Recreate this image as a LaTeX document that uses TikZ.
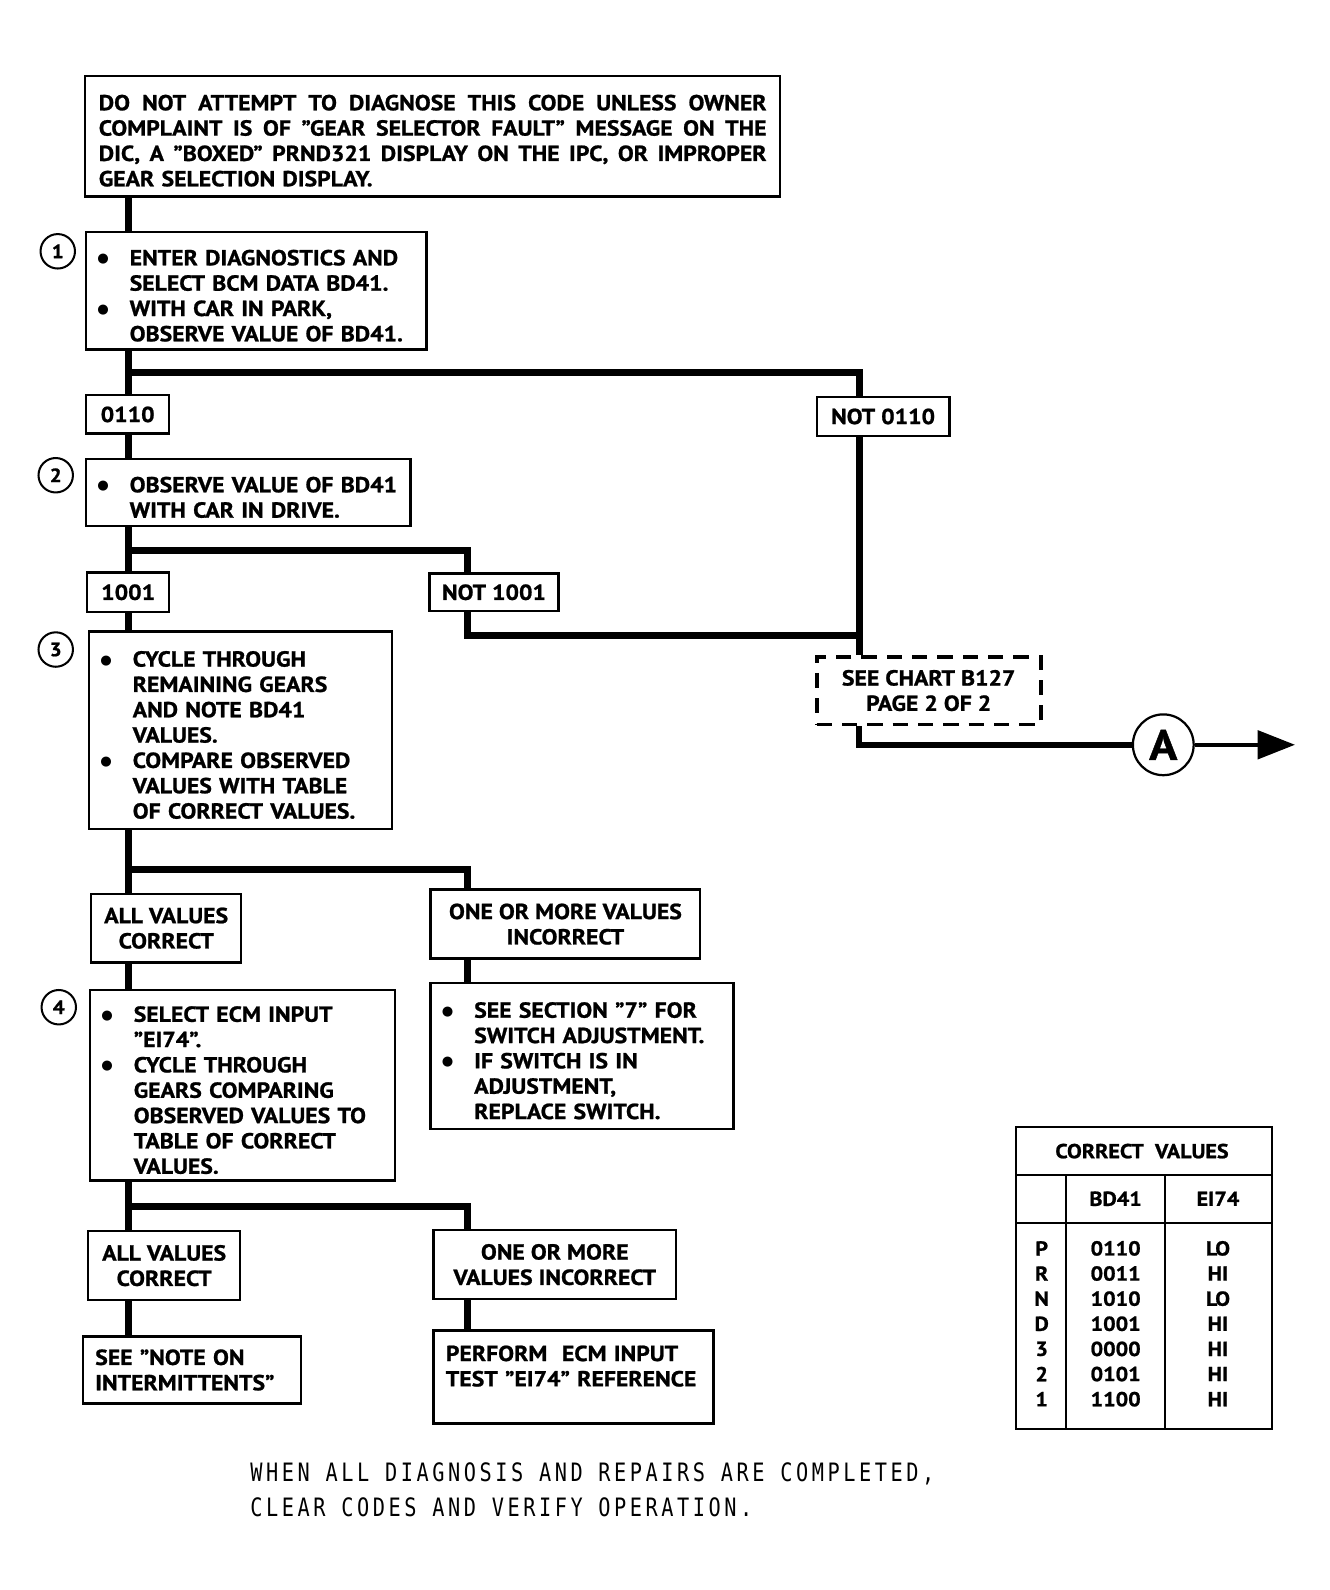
\documentclass[tikz,border=0pt]{standalone}
\usepackage{fontspec}
\setmainfont{PT Sans}[FakeStretch=1.09, BoldFeatures={FakeStretch=1.09, FakeBold=1}]
\newfontfamily\footfont{DejaVu Sans Mono}[FakeStretch=0.8, LetterSpace=14]
\newfontfamily\bulfont{DejaVu Sans}
\usetikzlibrary{arrows.meta}
\newcommand\bulmark{\raisebox{2.5pt}{\bulfont\fontsize{13}{13}\selectfont ●}}
\newcommand\bitem{\par\noindent\hangindent=31pt\hangafter=1\makebox[31pt][l]{\kern-1pt\bulmark}\ignorespaces}
\newcommand\jline[1]{\hbox to 659pt{#1}}
\tikzset{
  every node/.style={font=\bfseries\fontsize{21.5}{25}\selectfont},
  bx/.style={draw, line width=2.4pt, inner xsep=12pt, inner ysep=0pt},
  lbx/.style={draw, line width=2.4pt, inner xsep=12pt, inner ysep=0pt, align=left},
  cbx/.style={draw, line width=2.4pt, inner sep=0pt, align=center},
  dbx/.style={draw, line width=3.8pt, dash pattern=on 15pt off 10pt, inner sep=0pt, align=center},
  conn/.style={line width=7pt},
  num/.style={circle, draw, line width=2pt, minimum size=34pt, inner sep=0pt, font=\bfseries\fontsize{19}{20}\selectfont},
  tcell/.style={inner sep=0pt, font=\bfseries\fontsize{20}{22}\selectfont},
}
\begin{document}
\begin{tikzpicture}[x=1pt,y=-1pt]
\useasboundingbox (0,0) rectangle (1330,1590);
\begin{scope}[transform canvas={scale=1.0133}]
% boxes
\node[bx, minimum width=686pt, minimum height=119pt, text width=659pt, inner xsep=13.5pt] (top) at (427,134.5)
 {\noindent\rule{0pt}{24pt}\jline{DO\hfill NOT\hfill ATTEMPT\hfill TO\hfill DIAGNOSE\hfill THIS\hfill CODE\hfill UNLESS\hfill OWNER}\newline
  \jline{COMPLAINT\hfill IS\hfill OF\hfill "GEAR\hfill SELECTOR\hfill FAULT"\hfill MESSAGE\hfill ON\hfill THE}\newline
  \jline{DIC,\hfill A\hfill "BOXED"\hfill PRND321\hfill DISPLAY\hfill ON\hfill THE\hfill IPC,\hfill OR\hfill IMPROPER}\newline
  GEAR SELECTION DISPLAY.\par};
\node[bx, minimum width=336pt, minimum height=116pt, text width=312pt] (b1) at (253,287)
 {\bitem ENTER DIAGNOSTICS AND\newline SELECT BCM DATA BD41.
  \bitem WITH CAR IN PARK,\newline OBSERVE VALUE OF BD41.\par};
\node[cbx, minimum width=82pt, minimum height=38pt] (v0110) at (126,409) {0110};
\node[cbx, minimum width=131pt, minimum height=38pt] (n0110) at (871.5,411) {NOT 0110};
\node[bx, minimum width=320pt, minimum height=66pt, text width=296pt] (b2) at (245,486)
 {\bitem OBSERVE VALUE OF BD41\newline WITH CAR IN DRIVE.\par};
\node[cbx, minimum width=81pt, minimum height=39pt] (v1001) at (126.5,584.5) {1001};
\node[cbx, minimum width=127pt, minimum height=37pt] (n1001) at (487.5,584.5) {NOT 1001};
\node[bx, minimum width=299pt, minimum height=195pt, text width=275pt] (b3) at (237.5,720.5)
 {\bitem CYCLE THROUGH\newline REMAINING GEARS\newline AND NOTE BD41\newline VALUES.
  \bitem COMPARE OBSERVED\newline VALUES WITH TABLE\newline OF CORRECT VALUES.\par};
\node[cbx, minimum width=148pt, minimum height=68pt] (av1) at (164,916) {ALL VALUES\\CORRECT};
\node[cbx, minimum width=266pt, minimum height=68pt] (om1) at (558,912) {ONE OR MORE VALUES\\INCORRECT};
\node[bx, minimum width=299pt, minimum height=144pt, text width=275pt] (r1) at (574.5,1042)
 {\bitem SEE SECTION "7" FOR\newline SWITCH ADJUSTMENT.
  \bitem IF SWITCH IS IN\newline ADJUSTMENT,\newline REPLACE SWITCH.\par};
\node[bx, minimum width=301pt, minimum height=188pt, text width=277pt] (b4) at (239.5,1071)
 {\bitem SELECT ECM INPUT\newline "EI74".
  \bitem CYCLE THROUGH\newline GEARS COMPARING\newline OBSERVED VALUES TO\newline TABLE OF CORRECT\newline VALUES.\par};
\node[cbx, minimum width=150pt, minimum height=68pt] (av2) at (162,1249) {ALL VALUES\\CORRECT};
\node[cbx, minimum width=239pt, minimum height=68pt] (om2) at (547.5,1248) {ONE OR MORE\\VALUES INCORRECT};
\node[lbx, minimum width=215pt, minimum height=66pt, text width=191pt] (note) at (189.5,1352)
 {SEE "NOTE ON\\INTERMITTENTS"};
\node[bx, minimum width=276pt, minimum height=92pt, text width=252pt] (perf) at (566,1359)
 {\noindent PERFORM\ \ ECM INPUT\newline TEST "EI74" REFERENCE\rule[-22pt]{0pt}{1pt}\par};
\node[dbx, minimum width=221pt, minimum height=67pt] (see) at (916.5,681.5) {SEE CHART B127\\PAGE 2 OF 2};
\node[circle, draw, line width=2.2pt, minimum size=60pt, inner sep=0pt, font=\bfseries\fontsize{42}{42}\selectfont] (A) at (1148,735) {A};
\coordinate (aend) at (1278,735);
% step numbers
\node[num] (c1) at (57,248) {1};
\node[num] (c2) at (55,469) {2};
\node[num] (c3) at (55,641) {3};
\node[num] (c4) at (58,994) {4};
% connector columns
\coordinate (cx) at (127,0);
\coordinate (cm) at (461,0);
\coordinate (cr) at (848,0);
\coordinate (j1) at (127,368);
\coordinate (j2) at (127,543);
\coordinate (j3) at (848,627);
\coordinate (j4) at (127,858);
\coordinate (j5) at (127,1191);
\draw[conn] (top.south -| cx) -- (b1.north -| cx);
\draw[conn] (b1.south -| cx) -- (v0110.north -| cx);
\draw[conn] (j1) -| (n0110.north -| cr);
\draw[conn] (n0110.south -| cr) -- (see.north -| cr);
\draw[conn] (v0110.south -| cx) -- (b2.north -| cx);
\draw[conn] (b2.south -| cx) -- (v1001.north -| cx);
\draw[conn] (j2) -| (n1001.north -| cm);
\draw[conn] (n1001.south -| cm) |- (j3);
\draw[conn] (v1001.south -| cx) -- (b3.north -| cx);
\draw[conn] (b3.south -| cx) -- (av1.north -| cx);
\draw[conn] (j4) -| (om1.north -| cm);
\draw[conn] (om1.south -| cm) -- (r1.north -| cm);
\draw[conn] (av1.south -| cx) -- (b4.north -| cx);
\draw[conn] (b4.south -| cx) -- (av2.north -| cx);
\draw[conn] (j5) -| (om2.north -| cm);
\draw[conn] (av2.south -| cx) -- (note.north -| cx);
\draw[conn] (om2.south -| cm) -- (perf.north -| cm);
\draw[line width=6pt] (see.south -| cr) |- (A.west);
\draw[line width=4pt, -{Triangle[length=37pt,width=28pt]}] (A.east) -- (aend);
% table
\node[draw, line width=2pt, minimum width=252pt, minimum height=298pt, inner sep=0pt] (tbl) at (1129,1261) {};
\draw[line width=2pt] (tbl.west |- 0,1160) -- (tbl.east |- 0,1160);
\draw[line width=2pt] (tbl.west |- 0,1207) -- (tbl.east |- 0,1207);
\draw[line width=2pt] (1052,1160) -- (tbl.south -| 1052,0);
\draw[line width=2pt] (1150,1160) -- (tbl.south -| 1150,0);
\node[tcell] (th) at (1127,1136) {CORRECT\ \ VALUES};
\node[tcell] (hb) at (1101,1183) {BD41};
\node[tcell] (he) at (1202,1183) {EI74};
\foreach \g/\b/\e [count=\i from 0] in {P/0110/LO,R/0011/HI,N/1010/LO,D/1001/HI,3/0000/HI,2/0101/HI,1/1100/HI}{
  \node[tcell] (g\i) at (1028,1232+24.8*\i) {\g};
  \node[tcell] (b\i) at (1101,1232+24.8*\i) {\b};
  \node[tcell] (e\i) at (1202,1232+24.8*\i) {\e};
}
% footer
\node[anchor=north west, align=left, inner sep=0pt, font=\footfont\fontsize{25}{35}\selectfont] (foot) at (247,1443)
 {WHEN ALL DIAGNOSIS AND REPAIRS ARE COMPLETED,\\CLEAR CODES AND VERIFY OPERATION.};
\end{scope}
\end{tikzpicture}
\end{document}
